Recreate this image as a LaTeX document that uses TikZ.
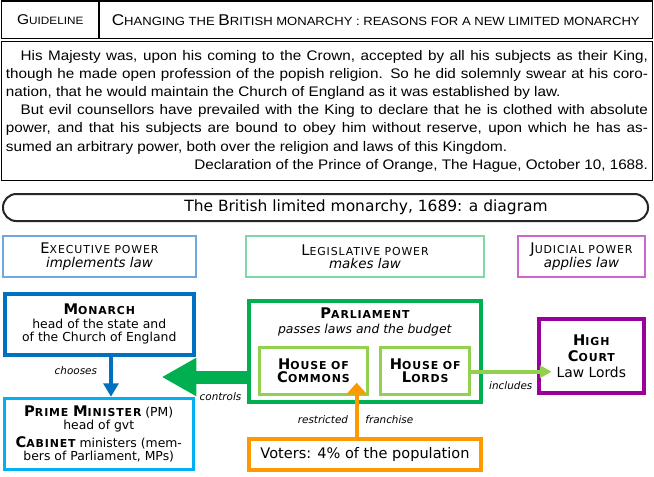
\documentclass[tikz,border=0pt]{standalone}
\usepackage{fontspec}
\setmainfont{DejaVu Sans}
\newfontfamily\narrowfont[FakeStretch=1.1]{Liberation Sans}
\newfontfamily\capsfont[LetterSpace=8]{DejaVu Sans}
\usetikzlibrary{arrows.meta,positioning}
\definecolor{MonarchBlue}{HTML}{0070C0}
\definecolor{MinisterBlue}{HTML}{00B0F0}
\definecolor{ParlGreen}{HTML}{00B050}
\definecolor{HouseGreen}{HTML}{92D050}
\definecolor{VoterOrange}{HTML}{FF9900}
\definecolor{CourtPurple}{HTML}{9A009A}
\definecolor{ExecBlue}{HTML}{6FA8DC}
\definecolor{LegisGreen}{HTML}{7FD8A8}
\definecolor{JudicPink}{HTML}{CC66CC}
\newcommand{\sccaps}[2]{{\capsfont\fontsize{11}{\baselineskip}\selectfont#1\fontsize{8.2}{\baselineskip}\selectfont#2}}
\newcommand{\headcaps}[2]{{\fontsize{11.7}{\baselineskip}\selectfont#1\fontsize{8.9}{\baselineskip}\selectfont#2}}
\tikzset{
  power/.style={draw,line width=1.2pt,minimum height=31.1pt,align=center,font=\fontsize{10.1}{10}\selectfont},
  unit/.style={draw,line width=3pt,align=center,inner sep=0pt,font=\fontsize{9.3}{10}\selectfont},
  house/.style={unit,draw=HouseGreen,line width=2.25pt,minimum height=35.6pt},
  tag/.style={inner sep=1pt,font=\fontsize{7.8}{9}\selectfont\itshape},
  choosearrow/.style={draw=MonarchBlue,line width=3pt,-{Triangle[length=10pt,width=11pt]}},
  controlarrow/.style={draw=ParlGreen,line width=9.75pt,-{Triangle[length=26pt,width=27pt]}},
  votearrow/.style={draw=VoterOrange,line width=3pt,-{Triangle[length=8.7pt,width=15pt]}},
  includearrow/.style={draw=HouseGreen,line width=3pt,-{Triangle[length=8.8pt,width=9pt]}}
}
\begin{document}
\begin{tikzpicture}[x=0.75pt,y=-0.75pt]
  \useasboundingbox (0,0) rectangle (654,476);
  % heading and quotation
  \node[draw,line width=1pt,minimum width=73.1pt,minimum height=28.1pt,font=\narrowfont] (guide) at (50.25,19.75)
    {{\fontsize{10.6}{\baselineskip}\selectfont G\fontsize{8}{\baselineskip}\selectfont UIDELINE}};
  \node[draw,line width=1pt,minimum width=415.1pt,minimum height=28.1pt,font=\narrowfont] (topic) at (375.75,19.75)
    {\headcaps{C}{HANGING THE }\headcaps{B}{RITISH MONARCHY : REASONS FOR A NEW LIMITED MONARCHY}};
  \node[draw,line width=1pt,minimum width=488.25pt,minimum height=104.25pt,text width=481.5pt,align=justify,
        font=\narrowfont\fontsize{10.4}{13.6}\selectfont] (quote) at (327,111.25) {\hyphenpenalty=10000
    \hspace*{11pt}His Majesty was, upon his coming to the Crown, accepted by all his subjects as their King,\linebreak
    though he made open profession of the popish religion. So he did solemnly swear at his coro-\linebreak
    nation, that he would maintain the Church of England as it was established by law.\par
    \hspace*{11pt}But evil counsellors have prevailed with the King to declare that he is clothed with absolute\linebreak
    power, and that his subjects are bound to obey him without reserve, upon which he has as-\linebreak
    sumed an arbitrary power, both over the religion and laws of this Kingdom.\par
    \hfill Declaration of the Prince of Orange, The Hague, October 10, 1688.};
  \node[draw=black!85,line width=1.5pt,rounded corners=10pt,minimum width=483.75pt,minimum height=20.25pt,
        font=\fontsize{11.6}{14}\selectfont] (title) at (325.5,207.5) {\hspace*{60.75pt}The British limited monarchy, 1689: a diagram};
  % the three powers
  \node[power,draw=ExecBlue,minimum width=144.75pt] (exec) at (99.5,256.5) {\sccaps{E}{XECUTIVE POWER}\\\textit{implements law}};
  \node[power,draw=LegisGreen,minimum width=178.5pt] (legis) at (365,256.5) {\sccaps{L}{EGISLATIVE POWER}\\\textit{makes law}};
  \node[power,draw=JudicPink,minimum width=95.25pt] (judic) at (581.5,256.5) {\sccaps{J}{UDICIAL POWER}\\\textit{applies law}};
  % institutions
  \node[unit,draw=MonarchBlue,minimum width=142pt,minimum height=45.75pt] (monarch) at (99.25,324.2)
    {{\bfseries\sccaps{M}{ONARCH}}\\head of the state and\\of the Church of England};
  \node[unit,draw=MinisterBlue,line width=2.25pt,minimum width=142pt,minimum height=53.25pt] (pm) at (98.75,433.8)
    {{\bfseries\sccaps{P}{RIME }\sccaps{M}{INISTER}} (PM)\\head of gvt\\[2pt]{\bfseries\sccaps{C}{ABINET}} ministers (mem-\\bers of Parliament, MPs)};
  \node[unit,draw=ParlGreen,minimum width=174pt,minimum height=76pt] (parl) at (365,351.2) {};
  \node[below=7pt of parl.north,align=center,inner sep=0pt,font=\fontsize{9.3}{11}\selectfont] (parlname)
    {{\bfseries\sccaps{P}{ARLIAMENT}}\\\textit{passes laws and the budget}};
  \node[house,minimum width=81pt] (commons) at (313.5,370.75) {\bfseries\sccaps{H}{OUSE OF}\\\bfseries\sccaps{C}{OMMONS}};
  \node[house,minimum width=67pt] (lords) at (425.25,370.75) {\bfseries\sccaps{H}{OUSE OF}\\\bfseries\sccaps{L}{ORDS}};
  \node[unit,draw=CourtPurple,minimum width=79pt,minimum height=55.7pt,font=\fontsize{10.4}{12}\selectfont] (court) at (591.3,355.8)
    {{\bfseries\sccaps{H}{IGH}}\\{\bfseries\sccaps{C}{OURT}}\\Law Lords};
  \node[unit,draw=VoterOrange,minimum width=174pt,minimum height=23.25pt,font=\fontsize{10.9}{12}\selectfont] (voters) at (365,454.2)
    {Voters: 4\% of the population};
  % connectors
  \coordinate (ctrltip) at (161.7,377);
  \coordinate (frtip) at (356.7,382.7);
  \coordinate (inctip) at (551.7,371.7);
  \draw[choosearrow] ([xshift=8.8pt]monarch.south) -- ([xshift=8.8pt]monarch.south |- pm.north)
    node[tag,pos=.34,left=8pt] {chooses};
  \draw[controlarrow] (parl.west |- ctrltip) -- (ctrltip) node[tag,pos=.31,below=6pt] {controls};
  \draw[votearrow] (voters.north -| frtip) -- (frtip)
    node[tag,pos=.32,left=4pt] {restricted} node[tag,pos=.32,right=4pt] {franchise};
  \draw[includearrow] (lords.east |- inctip) -- (inctip) node[tag,pos=.49,below=5pt] {includes};
\end{tikzpicture}
\end{document}
